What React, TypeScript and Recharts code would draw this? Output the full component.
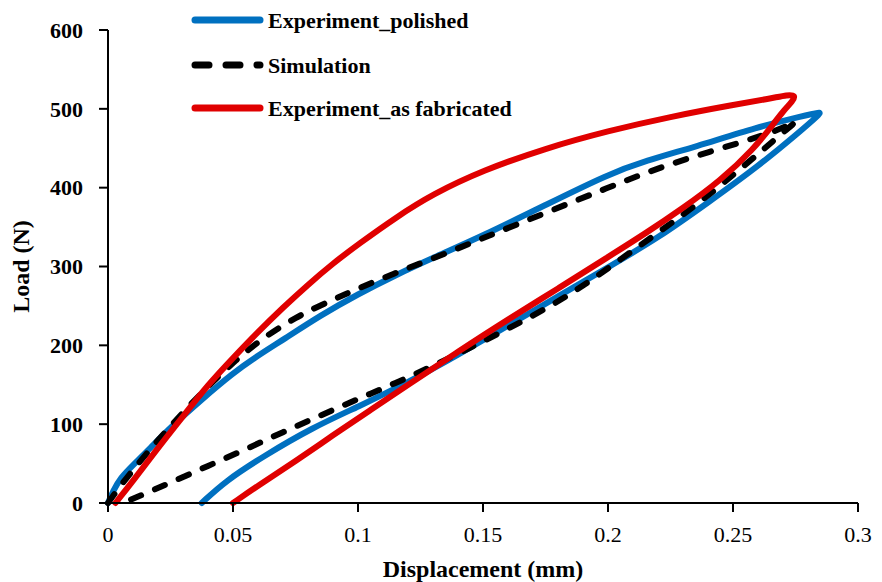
import { LineChart, Line, XAxis, YAxis, Legend } from "recharts"

// displacement (mm) / load (N), in drawing order (loading then unloading)
const polishedX = [0, 0.002, 0.005, 0.01, 0.017, 0.025, 0.037, 0.05, 0.06, 0.07, 0.085, 0.1, 0.115, 0.13, 0.15, 0.175, 0.2, 0.215, 0.235, 0.26, 0.278, 0.285, 0.285, 0.276, 0.26, 0.24, 0.22, 0.2, 0.18, 0.16, 0.14, 0.12, 0.1, 0.082, 0.062, 0.047, 0.0375]
const polishedLoad = [0, 15, 32, 48, 70, 96, 130, 165, 187, 207, 238, 265, 289, 311, 339, 378, 417, 434, 452, 477, 491, 496, 494, 469, 427, 381, 336, 299, 262, 225, 188, 153, 122, 96, 59, 28, 0]

const simulationX = [0, 0.005, 0.01, 0.02, 0.03, 0.04, 0.05, 0.06, 0.075, 0.09, 0.1, 0.115, 0.13, 0.15, 0.175, 0.2, 0.22, 0.24, 0.26, 0.272, 0.275, 0.275, 0.27, 0.262, 0.25, 0.235, 0.22, 0.205, 0.19, 0.175, 0.16, 0.145, 0.13, 0.115, 0.1, 0.085, 0.07, 0.055, 0.04, 0.025, 0.015, 0.006]
const simulationLoad = [0, 22, 42, 80, 115, 148, 178, 205, 236, 258, 272, 292, 310, 336, 368, 400, 425, 445, 464, 478, 485, 483, 470, 448, 416, 377, 343, 309, 275, 246, 221, 197, 174, 152, 132, 111, 90, 68, 47, 26, 12, 0]

const fabricatedX = [0.003, 0.01, 0.02, 0.03, 0.04, 0.05, 0.06, 0.07, 0.08, 0.09, 0.1, 0.115, 0.13, 0.15, 0.175, 0.2, 0.225, 0.25, 0.265, 0.272, 0.275, 0.274, 0.27, 0.267, 0.258, 0.245, 0.23, 0.215, 0.2, 0.18, 0.16, 0.14, 0.12, 0.105, 0.09, 0.075, 0.06, 0.05]
const fabricatedLoad = [0, 28, 70, 110, 150, 184, 217, 248, 277, 304, 328, 362, 392, 422, 450, 472, 490, 505, 513, 518, 517, 510, 497, 484, 448, 409, 374, 342, 312, 272, 233, 192, 150, 118, 86, 53, 22, 0]

const xTicks = [0, 0.05, 0.1, 0.15, 0.2, 0.25, 0.3]
const yTicks = [0, 100, 200, 300, 400, 500, 600]

const FONT = "'Liberation Serif', 'DejaVu Serif', serif"

const toPoints = (xs: number[], ys: number[]) => xs.map((x, i) => ({ x, y: ys[i] }))

const SERIES = [
  { name: "Experiment_polished", color: "#0070C0", dash: undefined as string | undefined, data: toPoints(polishedX, polishedLoad) },
  { name: "Simulation", color: "#000000", dash: "11 15", data: toPoints(simulationX, simulationLoad) },
  { name: "Experiment_as fabricated", color: "#E00000", dash: undefined as string | undefined, data: toPoints(fabricatedX, fabricatedLoad) },
]

const legendRows = [20, 65, 108]

function LegendBox() {
  return (
    <svg width={640} height={130} style={{ fontFamily: FONT, display: "block" }}>
      {SERIES.map((s, i) => (
        <g key={s.name}>
          <line
            x1={195}
            x2={260}
            y1={legendRows[i]}
            y2={legendRows[i]}
            stroke={s.color}
            strokeWidth={7}
            strokeLinecap="round"
            strokeDasharray={s.dash ? "14 17" : undefined}
          />
          <text x={268} y={legendRows[i] + 8} fontSize={22} fontWeight={700} fill="#000">
            {s.name}
          </text>
        </g>
      ))}
    </svg>
  )
}

export default function App() {
  return (
    <div style={{ position: "absolute", left: 0, top: 0, width: 882, height: 582, background: "#fff" }}>
      <LineChart
        width={882}
        height={582}
        margin={{ top: 30, right: 24, bottom: 0, left: 0 }}
        style={{ fontFamily: FONT }}
      >
        <XAxis
          dataKey="x"
          type="number"
          domain={[0, 0.3]}
          ticks={xTicks}
          height={79}
          tickSize={9}
          tickMargin={14}
          axisLine={{ stroke: "#000", strokeWidth: 2 }}
          tickLine={{ stroke: "#000", strokeWidth: 2 }}
          tick={{ fontSize: 22, fill: "#000" }}
          label={{
            content: (props: any) => {
              const vb = props.viewBox
              return (
                <text x={vb.x + vb.width / 2} y={577} textAnchor="middle" fontSize={24} fontWeight={700} fill="#000">
                  Displacement (mm)
                </text>
              )
            },
          }}
        />
        <YAxis
          dataKey="y"
          type="number"
          domain={[0, 600]}
          ticks={yTicks}
          width={108}
          tickSize={9}
          tickMargin={16}
          axisLine={{ stroke: "#000", strokeWidth: 2 }}
          tickLine={{ stroke: "#000", strokeWidth: 2 }}
          tick={{ fontSize: 22, fontWeight: 700, fill: "#000" }}
          label={{
            content: (props: any) => {
              const vb = props.viewBox
              const cy = vb.y + vb.height / 2
              return (
                <text
                  x={29}
                  y={cy}
                  transform={`rotate(-90, 29, ${cy})`}
                  textAnchor="middle"
                  fontSize={24}
                  fontWeight={700}
                  fill="#000"
                >
                  Load (N)
                </text>
              )
            },
          }}
        />
        <Legend
          layout="horizontal"
          verticalAlign="middle"
          align="center"
          wrapperStyle={{ top: 0, left: 0, width: 640, height: 130 }}
          content={() => <LegendBox />}
        />
        {SERIES.map((s) => (
          <Line
            key={s.name}
            name={s.name}
            data={s.data}
            dataKey="y"
            type="basis"
            stroke={s.color}
            strokeWidth={6}
            strokeDasharray={s.dash}
            strokeLinecap="round"
            strokeLinejoin="round"
            dot={false}
            activeDot={false}
            isAnimationActive={false}
          />
        ))}
      </LineChart>
    </div>
  )
}
